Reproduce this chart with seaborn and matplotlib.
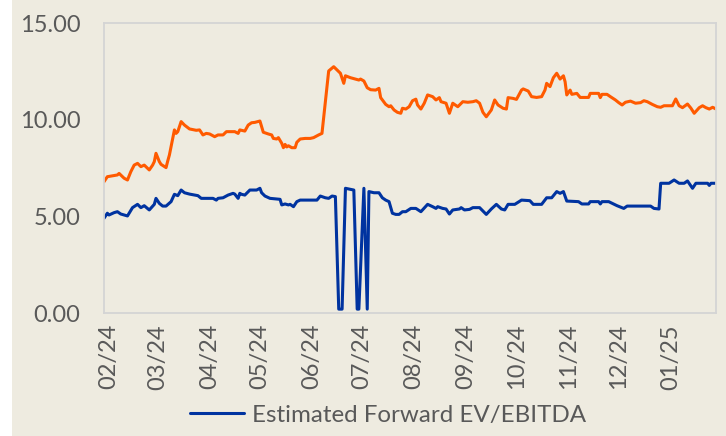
import pandas as pd
import matplotlib.pyplot as plt
import matplotlib.dates as mdates
from matplotlib.patches import Rectangle
import seaborn as sns

# Dados (EV/EBITDA forward)
orange_dates = [
    "2024-01-29", "2024-01-31", "2024-02-06", "2024-02-07", "2024-02-10", "2024-02-12",
    "2024-02-14", "2024-02-16", "2024-02-18", "2024-02-20", "2024-02-22", "2024-02-25",
    "2024-02-27", "2024-02-28", "2024-02-29", "2024-03-02", "2024-03-03", "2024-03-06",
    "2024-03-07", "2024-03-08", "2024-03-11", "2024-03-12", "2024-03-13", "2024-03-15",
    "2024-03-17", "2024-03-20", "2024-03-24", "2024-03-26", "2024-03-28", "2024-03-30",
    "2024-04-01", "2024-04-04", "2024-04-06", "2024-04-09", "2024-04-11", "2024-04-16",
    "2024-04-18", "2024-04-19", "2024-04-22", "2024-04-24", "2024-04-26", "2024-04-28",
    "2024-05-01", "2024-05-03", "2024-05-06", "2024-05-08", "2024-05-09", "2024-05-11",
    "2024-05-12", "2024-05-14", "2024-05-15", "2024-05-16", "2024-05-17", "2024-05-18",
    "2024-05-20", "2024-05-22", "2024-05-23", "2024-05-25", "2024-05-28", "2024-05-31",
    "2024-06-02", "2024-06-05", "2024-06-07", "2024-06-09", "2024-06-11", "2024-06-14",
    "2024-06-16", "2024-06-18", "2024-06-20", "2024-06-21", "2024-06-24", "2024-06-27",
    "2024-06-29", "2024-06-30", "2024-07-02", "2024-07-04", "2024-07-06", "2024-07-09",
    "2024-07-11", "2024-07-12", "2024-07-15", "2024-07-17", "2024-07-18", "2024-07-20",
    "2024-07-22", "2024-07-24", "2024-07-25", "2024-07-27", "2024-07-29", "2024-07-31",
    "2024-08-02", "2024-08-03", "2024-08-05", "2024-08-07", "2024-08-09", "2024-08-12",
    "2024-08-14", "2024-08-16", "2024-08-17", "2024-08-20", "2024-08-21", "2024-08-22",
    "2024-08-24", "2024-08-27", "2024-08-30", "2024-09-02", "2024-09-05", "2024-09-07",
    "2024-09-09", "2024-09-11", "2024-09-13", "2024-09-16", "2024-09-18", "2024-09-20",
    "2024-09-23", "2024-09-25", "2024-09-26", "2024-09-29", "2024-10-01", "2024-10-04",
    "2024-10-05", "2024-10-08", "2024-10-10", "2024-10-13", "2024-10-16", "2024-10-18",
    "2024-10-19", "2024-10-21", "2024-10-23", "2024-10-25", "2024-10-27", "2024-10-29",
    "2024-10-30", "2024-10-31", "2024-11-02", "2024-11-03", "2024-11-06", "2024-11-08",
    "2024-11-13", "2024-11-14", "2024-11-19", "2024-11-20", "2024-11-21", "2024-11-24",
    "2024-11-26", "2024-11-29", "2024-12-01", "2024-12-03", "2024-12-05", "2024-12-08",
    "2024-12-11", "2024-12-14", "2024-12-16", "2024-12-18", "2024-12-21", "2024-12-24",
    "2024-12-26", "2024-12-28", "2025-01-02", "2025-01-04", "2025-01-06", "2025-01-08",
    "2025-01-11", "2025-01-13", "2025-01-15", "2025-01-18", "2025-01-20", "2025-01-22",
    "2025-01-24", "2025-01-26", "2025-01-28",
]
orange_values = [
    6.79, 7.05, 7.14, 7.22, 6.97, 6.88,
    7.31, 7.65, 7.74, 7.57, 7.65, 7.40,
    7.65, 7.83, 8.26, 7.83, 7.69, 7.52,
    7.86, 8.17, 9.47, 9.29, 9.38, 9.90,
    9.72, 9.52, 9.45, 9.47, 9.21, 9.29,
    9.26, 9.12, 9.21, 9.21, 9.38, 9.38,
    9.29, 9.47, 9.41, 9.72, 9.84, 9.86,
    9.93, 9.35, 9.26, 9.21, 9.03, 9.00,
    9.07, 8.78, 8.55, 8.72, 8.59, 8.65,
    8.55, 8.55, 8.83, 9.00, 9.03, 9.03,
    9.07, 9.21, 9.29, 10.93, 12.52, 12.74,
    12.57, 12.40, 11.88, 12.27, 12.17, 12.10,
    12.05, 12.10, 12.00, 11.65, 11.55, 11.53,
    11.62, 11.14, 10.79, 10.67, 10.72, 10.50,
    10.38, 10.33, 10.59, 10.55, 10.67, 10.98,
    11.06, 10.76, 10.55, 10.85, 11.28, 11.19,
    11.02, 11.14, 10.93, 10.85, 10.59, 10.33,
    10.85, 10.67, 10.93, 10.90, 10.93, 10.98,
    10.85, 10.38, 10.15, 10.50, 11.02, 10.76,
    10.59, 10.55, 11.14, 11.10, 11.05, 11.53,
    11.59, 11.48, 11.19, 11.15, 11.19, 11.53,
    11.88, 11.71, 12.17, 12.40, 12.10, 12.27,
    11.96, 11.28, 11.53, 11.31, 11.36, 11.15,
    11.15, 11.36, 11.36, 11.14, 11.31, 11.31,
    11.19, 11.02, 10.88, 10.76, 10.90, 10.96,
    10.85, 10.88, 10.98, 10.93, 10.79, 10.67,
    10.64, 10.72, 10.72, 11.07, 10.72, 10.62,
    10.81, 10.60, 10.33, 10.62, 10.72, 10.62,
    10.55, 10.64, 10.55,
]

blue_dates = [
    "2024-01-29", "2024-01-31", "2024-02-01", "2024-02-04", "2024-02-06", "2024-02-08",
    "2024-02-10", "2024-02-12", "2024-02-15", "2024-02-18", "2024-02-20", "2024-02-22",
    "2024-02-25", "2024-02-28", "2024-02-29", "2024-03-02", "2024-03-04", "2024-03-06",
    "2024-03-09", "2024-03-11", "2024-03-13", "2024-03-15", "2024-03-17", "2024-03-20",
    "2024-03-25", "2024-03-27", "2024-04-03", "2024-04-05", "2024-04-06", "2024-04-09",
    "2024-04-12", "2024-04-15", "2024-04-16", "2024-04-18", "2024-04-19", "2024-04-20",
    "2024-04-22", "2024-04-25", "2024-04-29", "2024-05-01", "2024-05-02", "2024-05-04",
    "2024-05-07", "2024-05-13", "2024-05-14", "2024-05-16", "2024-05-18", "2024-05-19",
    "2024-05-21", "2024-05-23", "2024-05-25", "2024-06-04", "2024-06-06", "2024-06-09",
    "2024-06-11", "2024-06-13", "2024-06-15", "2024-06-17", "2024-06-19", "2024-06-21",
    "2024-06-26", "2024-06-28", "2024-06-29", "2024-07-02", "2024-07-04", "2024-07-05",
    "2024-07-08", "2024-07-11", "2024-07-13", "2024-07-15", "2024-07-17", "2024-07-19",
    "2024-07-21", "2024-07-23", "2024-07-25", "2024-07-27", "2024-07-30", "2024-08-02",
    "2024-08-05", "2024-08-09", "2024-08-12", "2024-08-14", "2024-08-15", "2024-08-18",
    "2024-08-20", "2024-08-22", "2024-08-24", "2024-08-28", "2024-08-29", "2024-08-31",
    "2024-09-03", "2024-09-05", "2024-09-09", "2024-09-13", "2024-09-16", "2024-09-19",
    "2024-09-22", "2024-09-24", "2024-09-26", "2024-09-30", "2024-10-04", "2024-10-09",
    "2024-10-11", "2024-10-16", "2024-10-19", "2024-10-22", "2024-10-25", "2024-10-27",
    "2024-10-29", "2024-10-31", "2024-11-07", "2024-11-09", "2024-11-13", "2024-11-14",
    "2024-11-19", "2024-11-20", "2024-11-21", "2024-11-25", "2024-11-30", "2024-12-04",
    "2024-12-06", "2024-12-20", "2024-12-22", "2024-12-25", "2024-12-26", "2024-12-31",
    "2025-01-03", "2025-01-06", "2025-01-09", "2025-01-11", "2025-01-14", "2025-01-16",
    "2025-01-23", "2025-01-24", "2025-01-25", "2025-01-28",
]
blue_values = [
    4.90, 5.16, 5.07, 5.19, 5.24, 5.12,
    5.07, 5.02, 5.45, 5.62, 5.45, 5.55,
    5.33, 5.62, 5.93, 5.67, 5.53, 5.53,
    5.76, 6.14, 6.07, 6.36, 6.22, 6.15,
    6.07, 5.93, 5.93, 5.84, 5.93, 5.96,
    6.10, 6.19, 6.15, 5.93, 6.19, 6.14,
    6.10, 6.36, 6.36, 6.45, 6.22, 6.05,
    5.93, 5.88, 5.59, 5.64, 5.59, 5.62,
    5.50, 5.76, 5.84, 5.84, 6.05, 5.96,
    5.93, 6.05, 6.02, 0.20, 0.20, 6.45,
    6.36, 0.20, 0.20, 6.45, 0.20, 6.28,
    6.22, 6.22, 5.96, 5.84, 5.76, 5.16,
    5.10, 5.10, 5.24, 5.24, 5.41, 5.41,
    5.24, 5.62, 5.50, 5.41, 5.50, 5.41,
    5.38, 5.12, 5.33, 5.38, 5.45, 5.33,
    5.36, 5.45, 5.45, 5.10, 5.38, 5.62,
    5.38, 5.33, 5.62, 5.62, 5.84, 5.81,
    5.62, 5.62, 5.96, 5.96, 6.28, 6.19,
    6.28, 5.79, 5.76, 5.64, 5.64, 5.76,
    5.76, 5.64, 5.76, 5.76, 5.55, 5.41,
    5.53, 5.53, 5.41, 5.38, 6.71, 6.71,
    6.88, 6.71, 6.71, 6.83, 6.45, 6.71,
    6.71, 6.60, 6.71, 6.71,
]

month_ticks = pd.date_range("2024-02-01", "2025-01-01", freq="MS")

df_orange = pd.DataFrame({"Data": pd.to_datetime(orange_dates), "Valor": orange_values})
df_blue = pd.DataFrame({"Data": pd.to_datetime(blue_dates), "Valor": blue_values})

bege = "#EEEBE0"
cinza = "#595959"

sns.set_style("white")
plt.rcParams["font.family"] = ["Lato", "DejaVu Sans"]

fig = plt.figure(figsize=(7.26, 4.36), dpi=100)
fig.patch.set_facecolor("white")
fig.add_artist(Rectangle((12 / 726, 0), 1, 1, transform=fig.transFigure,
                         facecolor=bege, edgecolor="none", zorder=-10))
ax = fig.add_axes([104 / 726, 1 - 313 / 436, 612 / 726, 290 / 436])
ax.set_facecolor(bege)

sns.lineplot(data=df_orange, x="Data", y="Valor", ax=ax, color="#FF5A00",
             linewidth=2.2, label="_nolegend_")
sns.lineplot(data=df_blue, x="Data", y="Valor", ax=ax, color="#0033A0",
             linewidth=2.2, label="Estimated Forward EV/EBITDA")

ax.set_xlim(pd.Timestamp("2024-01-29"), pd.Timestamp("2025-01-28"))
ax.set_ylim(0, 15)
ax.set_yticks([0, 5, 10, 15])
ax.yaxis.set_major_formatter(plt.FormatStrFormatter("%.2f"))
ax.set_xticks(month_ticks)
ax.xaxis.set_major_formatter(mdates.DateFormatter("%m/%y"))
ax.set_xlabel("")
ax.set_ylabel("")
ax.tick_params(axis="y", length=0, pad=17, labelsize=17, labelcolor=cinza)
ax.tick_params(axis="x", length=0, pad=8, labelsize=17, labelcolor=cinza, rotation=90)
for s in ax.spines.values():
    s.set_color("#D4D4D4")
    s.set_linewidth(1.3)

ax.legend(loc="center", bbox_to_anchor=(388 / 726, 1 - 415 / 436),
          bbox_transform=fig.transFigure, frameon=False, fontsize=17.4,
          labelcolor=cinza, handlelength=2.25, handletextpad=0.3)

fig.savefig("out.png", dpi=100, facecolor=fig.get_facecolor())
plt.close()
